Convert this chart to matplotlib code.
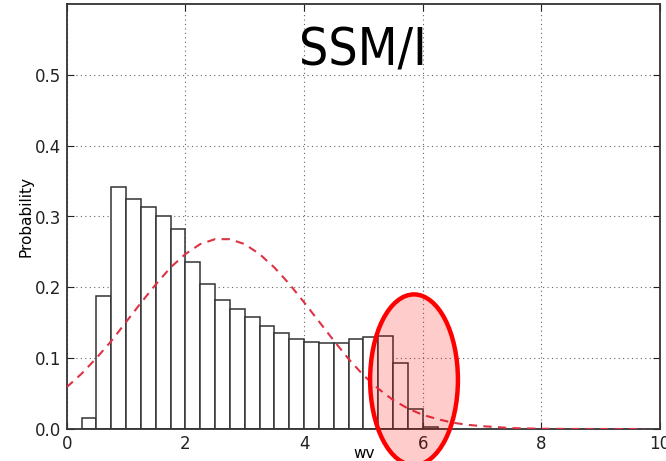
import matplotlib
matplotlib.use('Agg')
import matplotlib.pyplot as plt
from matplotlib.patches import Ellipse

# histogram of wv, bin width 0.25
bin_left = [0.25, 0.5, 0.75, 1.0, 1.25, 1.5, 1.75, 2.0, 2.25, 2.5, 2.75, 3.0,
            3.25, 3.5, 3.75, 4.0, 4.25, 4.5, 4.75, 5.0, 5.25, 5.5, 5.75, 6.0]
probability = [0.016, 0.188, 0.342, 0.324, 0.314, 0.301, 0.283, 0.236, 0.205, 0.182,
               0.169, 0.158, 0.146, 0.136, 0.127, 0.123, 0.121, 0.121, 0.127, 0.130,
               0.131, 0.093, 0.028, 0.003]

# dashed reference curve
curve_x = [0.0, 0.25, 0.5, 0.75, 1.0, 1.25, 1.5, 1.75, 2.0, 2.25, 2.5, 2.75, 3.0,
           3.25, 3.5, 3.75, 4.0, 4.25, 4.5, 4.75, 5.0, 5.25, 5.5, 5.75, 6.0, 6.25,
           6.5, 6.75, 7.0, 7.5, 8.0, 8.5, 9.0, 9.75]
curve_y = [0.059, 0.078, 0.100, 0.124, 0.151, 0.178, 0.204, 0.228, 0.247, 0.261,
           0.268, 0.268, 0.261, 0.247, 0.228, 0.205, 0.179, 0.152, 0.125, 0.099,
           0.076, 0.057, 0.041, 0.029, 0.020, 0.014, 0.009, 0.006, 0.004, 0.0013,
           0.0004, 0.0001, 0.0, 0.0]

xticks = [0, 2, 4, 6, 8, 10]
yticks = [0.0, 0.1, 0.2, 0.3, 0.4, 0.5]

fig = plt.figure(figsize=(6.66, 4.61), dpi=100)
ax = fig.add_axes([66.7 / 666, 1 - 429 / 461, (660 - 66.7) / 666, (429 - 4) / 461])

ax.bar(bin_left, probability, width=0.25, align='edge', facecolor='white',
       edgecolor='#333333', linewidth=1.1, zorder=2)
ax.plot(curve_x, curve_y, color='#dd3344', lw=1.5, dashes=(4, 3), zorder=3)

ax.set_xlim(0, 10)
ax.set_ylim(0, 0.6)
ax.set_xticks(xticks)
ax.set_yticks(yticks)
ax.set_yticklabels(['%.1f' % v for v in yticks])
ax.grid(True, color='#666666', linestyle=(0, (1, 3)), linewidth=0.8)
ax.set_axisbelow(True)
ax.tick_params(direction='in', top=True, right=True, length=5, labelsize=12,
               colors='#222222', pad=4)
for s in ax.spines.values():
    s.set_linewidth(1.3)
    s.set_color('#333333')

ax.set_xlabel('wv', fontsize=11, va='center')
ax.xaxis.set_label_coords(0.502, -0.057)
ax.set_ylabel('Probability', fontsize=11, labelpad=1)

ax.text(5.0, 0.533, 'SSM/I', fontsize=37, fontstretch='condensed',
        ha='center', va='center', color='black')

# highlighted tail
ell = Ellipse((5.854, 0.0695), 1.48, 0.241, facecolor=(1, 0, 0, 0.2),
              edgecolor='red', linewidth=3.2, zorder=4, clip_on=False)
ax.add_patch(ell)

fig.savefig('out.png', dpi=100)
